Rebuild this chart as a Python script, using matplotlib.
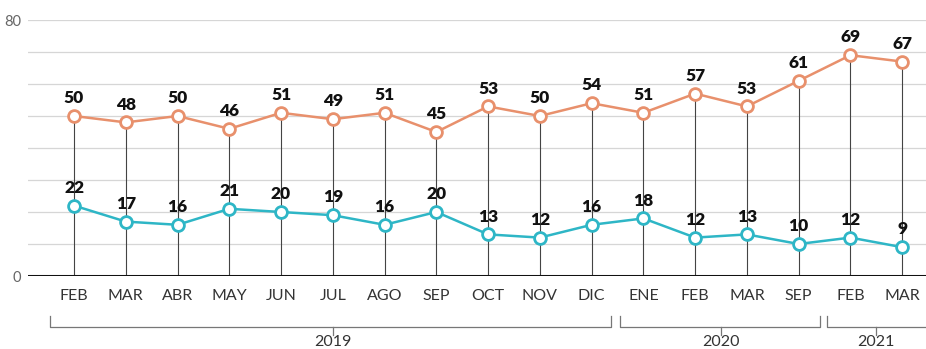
import matplotlib
matplotlib.use("Agg")
import matplotlib.pyplot as plt
import matplotlib.transforms as mtransforms

months = ['FEB', 'MAR', 'ABR', 'MAY', 'JUN', 'JUL', 'AGO', 'SEP', 'OCT', 'NOV', 'DIC',
          'ENE', 'FEB', 'MAR', 'SEP', 'FEB', 'MAR']
upper = [50, 48, 50, 46, 51, 49, 51, 45, 53, 50, 54, 51, 57, 53, 61, 69, 67]
lower = [22, 17, 16, 21, 20, 19, 16, 20, 13, 12, 16, 18, 12, 13, 10, 12, 9]
years = ['2019', '2020', '2021']
year_spans = [(-0.46, 10.38), (10.55, 14.42), (14.55, 16.6)]
year_centers = [5.0, 12.5, 15.5]

orange = '#e8906c'
cyan = '#2eb6c6'

plt.rcParams['font.family'] = ['Lato', 'DejaVu Sans']

fig = plt.figure(figsize=(9.26, 3.49), dpi=100)
ax = fig.add_axes([28 / 926, 73 / 349, 898 / 926, 256 / 349])
x = list(range(len(months)))

# grid
for g in range(10, 90, 10):
    ax.axhline(g, color='#d6d6d6', lw=0.9, zorder=0)

# drop lines from upper point to axis
for i, v in enumerate(upper):
    ax.plot([i, i], [0, v], color='#444444', lw=0.8, zorder=1)

ax.axhline(0, color='#111111', lw=2.2, zorder=3)

ax.plot(x, upper, color=orange, lw=1.8, marker='o', ms=8.5, mfc='white', mec=orange, mew=2, zorder=4)
ax.plot(x, lower, color=cyan, lw=1.8, marker='o', ms=8.5, mfc='white', mec=cyan, mew=2, zorder=4)

for i in x:
    for v in (upper[i], lower[i]):
        ax.annotate(str(v), (i, v), xytext=(0, 7), textcoords='offset points',
                    ha='center', va='bottom', fontsize=12.5, fontweight='heavy',
                    color='#111111', zorder=5)

ax.set_xlim(-0.889, 16.46)
ax.set_ylim(0, 80)
for s in ax.spines.values():
    s.set_visible(False)
ax.set_xticks(x)
ax.set_xticklabels(months, fontsize=11.5, color='#333333')
ax.tick_params(axis='x', length=0, pad=9)
ax.set_yticks([0, 80])
ax.set_yticklabels(['0', '80'], fontsize=10.5, color='#666666')
ax.tick_params(axis='y', length=0, pad=5)

# year brackets
tr = mtransforms.blended_transform_factory(ax.transData, ax.transAxes)
for year, (a, b), c in zip(years, year_spans, year_centers):
    ax.plot([a, a, b, b], [-0.156, -0.199, -0.199, -0.156], color='#777777', lw=0.9,
            transform=tr, clip_on=False)
    ax.plot([c, c], [-0.199, -0.232], color='#777777', lw=0.9, transform=tr, clip_on=False)
    ax.text(c, -0.258, year, transform=tr, ha='center', va='center', fontsize=11.5,
            color='#333333')

fig.savefig('out.png', dpi=100)
